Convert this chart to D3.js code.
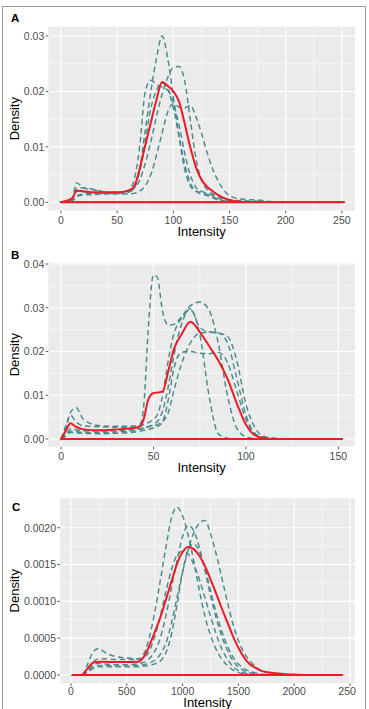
<!DOCTYPE html>
<html><head><meta charset="utf-8">
<script src="https://cdn.jsdelivr.net/npm/d3@7"></script>
<style>
body{margin:0;background:#fff;}
svg{display:block;font-family:"Liberation Sans",Arial,Helvetica,sans-serif;}
</style>
</head><body>
<svg id="chart" width="369" height="709"></svg>
<script>
// ---------- Panel A data ----------
const xA = [0,5,10,14,20,30,40,50,60,65,70,75,80,85,90,95,100,105,110,115,120,125,130,135,140,150,160,175,190,252];
const meanA = [0,0.0003,0.0007,0.0021,0.0020,0.0018,0.0018,0.0018,0.0021,0.0028,0.0060,0.0103,0.0144,0.0185,0.0217,0.0210,0.0200,0.0182,0.0143,0.0100,0.0064,0.0041,0.0028,0.0020,0.0013,0.0004,0.0001,0,0,0];
const dA1 = [0,0.0002,0.0008,0.0035,0.0026,0.0022,0.0018,0.0016,0.0018,0.0025,0.0060,0.0130,0.0200,0.0260,0.0300,0.0260,0.0190,0.0120,0.0060,0.0030,0.0020,0.0018,0.0014,0.0010,0.0005,0.0001,0,0,0,0];
const dA2 = [0,0.0002,0.0006,0.0025,0.0026,0.0023,0.0018,0.0017,0.0022,0.0040,0.0100,0.0200,0.0220,0.0213,0.0208,0.0202,0.0170,0.0120,0.0070,0.0035,0.0020,0.0015,0.0012,0.0008,0.0004,0.0001,0,0,0,0];
const dA3 = [0,0.0001,0.0004,0.0012,0.0015,0.0016,0.0017,0.0018,0.0020,0.0025,0.0040,0.0070,0.0110,0.0155,0.0195,0.0225,0.0243,0.0245,0.0220,0.0150,0.0080,0.0040,0.0023,0.0015,0.0010,0.0004,0.0003,0.0002,0,0];
const dA4 = [0,0.0001,0.0003,0.0010,0.0013,0.0014,0.0015,0.0015,0.0015,0.0016,0.0020,0.0030,0.0050,0.0085,0.0125,0.0163,0.0178,0.0172,0.0170,0.0175,0.0155,0.0125,0.0090,0.0060,0.0038,0.0012,0.0006,0.0004,0.0001,0];
const dA5 = [0,0.0002,0.0005,0.0020,0.0019,0.0017,0.0016,0.0016,0.0020,0.0030,0.0055,0.0110,0.0170,0.0202,0.0215,0.0205,0.0180,0.0140,0.0090,0.0050,0.0027,0.0020,0.0016,0.0012,0.0007,0.0002,0.0001,0,0,0];
const xTicksA = [0,50,100,150,200,250];
const yTicksA = [0,0.01,0.02,0.03];

// ---------- Panel B data ----------
const xB = [0,3,5,8,12,20,30,40,43,45,47,50,52,55,58,61,65,70,75,80,85,90,95,100,105,110,115,125,152];
const meanB = [0,0.0022,0.0036,0.0028,0.0022,0.0020,0.0022,0.0025,0.0030,0.0050,0.0088,0.0105,0.0106,0.0109,0.0155,0.0205,0.0238,0.0268,0.0245,0.0213,0.0180,0.0138,0.0082,0.0033,0.0008,0.0002,0,0,0];
const dB1 = [0,0.0030,0.0060,0.0072,0.0045,0.0031,0.0029,0.0030,0.0035,0.0090,0.0240,0.0375,0.0370,0.0290,0.0260,0.0262,0.0278,0.0295,0.0240,0.0100,0.0012,0.0002,0,0,0,0,0,0,0];
const dB2 = [0,0.0035,0.0055,0.0040,0.0030,0.0028,0.0027,0.0028,0.0030,0.0033,0.0037,0.0045,0.0055,0.0100,0.0180,0.0240,0.0275,0.0305,0.0313,0.0295,0.0220,0.0100,0.0025,0.0005,0.0001,0,0,0,0];
const dB3 = [0,0.0010,0.0018,0.0017,0.0015,0.0015,0.0016,0.0019,0.0022,0.0025,0.0028,0.0033,0.0040,0.0065,0.0120,0.0190,0.0260,0.0298,0.0255,0.0245,0.0243,0.0220,0.0140,0.0055,0.0012,0.0003,0.0001,0,0];
const dB4 = [0,0.0008,0.0015,0.0014,0.0013,0.0012,0.0013,0.0016,0.0018,0.0020,0.0022,0.0025,0.0028,0.0040,0.0090,0.0160,0.0198,0.0200,0.0196,0.0195,0.0198,0.0175,0.0110,0.0045,0.0012,0.0003,0.0001,0,0];
const dB5 = [0,0.0012,0.0023,0.0021,0.0019,0.0018,0.0019,0.0022,0.0024,0.0026,0.0028,0.0030,0.0033,0.0040,0.0060,0.0110,0.0170,0.0220,0.0242,0.0244,0.0242,0.0235,0.0180,0.0080,0.0025,0.0006,0.0002,0.00005,0];
const xTicksB = [0,50,100,150];
const yTicksB = [0,0.01,0.02,0.03,0.04];

// ---------- Panel C data ----------
const xC = [15,95,150,200,250,300,400,500,600,650,700,750,800,850,900,950,1000,1050,1100,1150,1200,1250,1300,1350,1400,1450,1500,1550,1600,1650,1700,1800,1900,2000,2100,2430];
const meanC = [0,0,0.9e-4,1.7e-4,1.8e-4,1.8e-4,1.75e-4,1.75e-4,1.8e-4,2.4e-4,3.9e-4,5.8e-4,7.8e-4,10.2e-4,12.7e-4,15.1e-4,16.7e-4,17.4e-4,17.1e-4,16.2e-4,14.8e-4,13.0e-4,11.1e-4,9.1e-4,7.2e-4,5.3e-4,3.7e-4,2.4e-4,1.5e-4,1.0e-4,0.6e-4,0.3e-4,0.15e-4,0.05e-4,0,0];
const dC1 = [0,0,1.5e-4,3.2e-4,3.6e-4,3.1e-4,2.5e-4,2.3e-4,2.2e-4,2.8e-4,5.0e-4,8.5e-4,12.8e-4,17.3e-4,21.3e-4,22.8e-4,21.6e-4,19.0e-4,15.5e-4,11.5e-4,8.0e-4,5.4e-4,3.5e-4,2.2e-4,1.3e-4,0.7e-4,0.35e-4,0.15e-4,0.05e-4,0,0,0,0,0,0,0];
const dC2 = [0,0,0.7e-4,1.4e-4,1.6e-4,1.5e-4,1.4e-4,1.4e-4,1.5e-4,1.7e-4,2.2e-4,3.2e-4,5.0e-4,8.0e-4,11.8e-4,15.5e-4,18.8e-4,20.3e-4,19.6e-4,17.3e-4,14.2e-4,10.8e-4,7.8e-4,5.3e-4,3.4e-4,2.0e-4,1.1e-4,0.6e-4,0.3e-4,0.15e-4,0.05e-4,0,0,0,0,0];
const dC3 = [0,0,0.5e-4,1.1e-4,1.3e-4,1.3e-4,1.2e-4,1.2e-4,1.3e-4,1.4e-4,1.6e-4,2.0e-4,2.8e-4,4.3e-4,7.0e-4,10.5e-4,14.0e-4,17.0e-4,19.3e-4,20.6e-4,21.0e-4,19.2e-4,16.5e-4,13.3e-4,10.0e-4,7.0e-4,4.7e-4,3.0e-4,2.0e-4,1.2e-4,0.6e-4,0.2e-4,0.05e-4,0,0,0];
const dC4 = [0,0,0.8e-4,1.8e-4,2.2e-4,2.2e-4,2.1e-4,2.1e-4,2.1e-4,2.3e-4,3.2e-4,5.2e-4,8.0e-4,11.3e-4,14.3e-4,16.3e-4,16.8e-4,16.4e-4,15.0e-4,13.0e-4,10.5e-4,8.0e-4,5.6e-4,3.6e-4,2.2e-4,1.2e-4,0.6e-4,0.3e-4,0.1e-4,0.05e-4,0,0,0,0,0,0];
const dC5 = [0,0,0.4e-4,0.9e-4,1.1e-4,1.1e-4,1.1e-4,1.1e-4,1.1e-4,1.2e-4,1.3e-4,1.5e-4,1.9e-4,3.0e-4,5.5e-4,9.5e-4,14.0e-4,17.0e-4,17.8e-4,16.8e-4,14.5e-4,11.5e-4,8.5e-4,6.0e-4,4.0e-4,2.5e-4,1.5e-4,0.9e-4,0.5e-4,0.3e-4,0.15e-4,0.05e-4,0,0,0,0];
const xTicksC = [0,500,1000,1500,2000,2500];
const yTicksC = [0,0.0005,0.0010,0.0015,0.0020];

// ---------- layout ----------
const panels = [
  {label:"A", xs:xA, mean:meanA, dashed:[dA1,dA2,dA3,dA4,dA5], xTicks:xTicksA, yTicks:yTicksA, yFmt:d3.format(".2f"),
   box:{l:48.3,r:355,t:26.7,b:210.7}, xDom:[-11.3,261.7], yDom:[-0.00152,0.03168], lab:[11,22], tickOff:12.8, titleOff:25},
  {label:"B", xs:xB, mean:meanB, dashed:[dB1,dB2,dB3,dB4,dB5], xTicks:xTicksB, yTicks:yTicksB, yFmt:d3.format(".2f"),
   box:{l:48.3,r:355,t:262.7,b:446.7}, xDom:[-6.9,159], yDom:[-0.00176,0.0403], lab:[11,259], tickOff:12.8, titleOff:25},
  {label:"C", xs:xC, mean:meanC, dashed:[dC1,dC2,dC3,dC4,dC5], xTicks:xTicksC, yTicks:yTicksC, yFmt:d3.format(".4f"),
   box:{l:60,r:355,t:498.3,b:683.3}, xDom:[-98.6,2545], yDom:[-0.000113,0.0024], lab:[12,511], clipX:true, tickOff:11.6, titleOff:23.2}
];

const svg = d3.select("#chart");
const defs = svg.append("defs");
defs.append("clipPath").attr("id","clipC").append("rect").attr("x",0).attr("y",0).attr("width",356).attr("height",709);

// outer frame
svg.append("rect").attr("x",2.5).attr("y",6.5).attr("width",363).attr("height",730)
  .attr("fill","none").attr("stroke","#9a9a9a").attr("stroke-width",1);

function minors(ticks, dom){
  const step = ticks[1]-ticks[0];
  const out = [];
  for(let v = ticks[0]-step/2; v <= dom[1]; v += step){ if(v >= dom[0]) out.push(v); }
  return out;
}

panels.forEach(p => {
  const b = p.box;
  const x = d3.scaleLinear().domain(p.xDom).range([b.l,b.r]);
  const y = d3.scaleLinear().domain(p.yDom).range([b.b,b.t]);
  const g = svg.append("g");

  g.append("rect").attr("x",b.l).attr("y",b.t).attr("width",b.r-b.l).attr("height",b.b-b.t).attr("fill","#ebebeb");

  // minor grid
  g.selectAll(".mx").data(minors(p.xTicks,p.xDom)).enter().append("line")
    .attr("x1",d=>x(d)).attr("x2",d=>x(d)).attr("y1",b.t).attr("y2",b.b)
    .attr("stroke","#fff").attr("stroke-width",0.55);
  g.selectAll(".my").data(minors(p.yTicks,p.yDom)).enter().append("line")
    .attr("y1",d=>y(d)).attr("y2",d=>y(d)).attr("x1",b.l).attr("x2",b.r)
    .attr("stroke","#fff").attr("stroke-width",0.55);
  // major grid
  g.selectAll(".Mx").data(p.xTicks).enter().append("line")
    .attr("x1",d=>x(d)).attr("x2",d=>x(d)).attr("y1",b.t).attr("y2",b.b)
    .attr("stroke","#fff").attr("stroke-width",1.1);
  g.selectAll(".My").data(p.yTicks).enter().append("line")
    .attr("y1",d=>y(d)).attr("y2",d=>y(d)).attr("x1",b.l).attr("x2",b.r)
    .attr("stroke","#fff").attr("stroke-width",1.1);

  const line = d3.line().x(d=>x(d[0])).y(d=>y(d[1])).curve(d3.curveMonotoneX);
  const pathFor = vals => {
    const pts = p.xs.map((xv,i)=>[xv, vals[i]]);
    return line(pts) + "L" + x(p.xs[p.xs.length-1]) + "," + y(0) + "L" + x(p.xs[0]) + "," + y(0) + "Z";
  };

  p.dashed.forEach(vals => {
    g.append("path").attr("d", pathFor(vals)).attr("fill","none")
      .attr("stroke","#4a8a8d").attr("stroke-width",1.45).attr("stroke-dasharray","5.5,3.5");
  });
  g.append("path").attr("d", pathFor(p.mean)).attr("fill","none")
    .attr("stroke","#ec1c24").attr("stroke-width",2).attr("stroke-linejoin","round");

  // y axis ticks + labels
  g.selectAll(".yt").data(p.yTicks).enter().append("line")
    .attr("x1",b.l-2.7).attr("x2",b.l).attr("y1",d=>y(d)).attr("y2",d=>y(d))
    .attr("stroke","#333").attr("stroke-width",0.8);
  g.selectAll(".yl").data(p.yTicks).enter().append("text")
    .attr("x",b.l-4).attr("y",d=>y(d)).attr("dy","0.36em").attr("text-anchor","end")
    .attr("font-size",10.5).attr("fill","#4d4d4d").text(d=>p.yFmt(d));
  // x axis ticks + labels
  const xg = g.append("g");
  if(p.clipX) xg.attr("clip-path","url(#clipC)");
  xg.selectAll(".xt").data(p.xTicks).enter().append("line")
    .attr("x1",d=>x(d)).attr("x2",d=>x(d)).attr("y1",b.b).attr("y2",b.b+2.7)
    .attr("stroke","#333").attr("stroke-width",0.8);
  xg.selectAll(".xl").data(p.xTicks).enter().append("text")
    .attr("x",d=>x(d)).attr("y",b.b+p.tickOff).attr("text-anchor","middle")
    .attr("font-size",10.5).attr("fill","#4d4d4d").text(d=>d3.format("d")(d));

  // axis titles
  g.append("text").attr("x",(b.l+b.r)/2).attr("y",b.b+p.titleOff).attr("text-anchor","middle")
    .attr("font-size",13).attr("fill","#000").text("Intensity");
  g.append("text").attr("transform",`translate(19,${(b.t+b.b)/2}) rotate(-90)`)
    .attr("text-anchor","middle").attr("font-size",13).attr("fill","#000").text("Density");
  // panel label
  g.append("text").attr("x",p.lab[0]).attr("y",p.lab[1]).attr("font-size",11.5)
    .attr("font-weight","bold").attr("fill","#000").text(p.label);
});
</script>
</body></html>
